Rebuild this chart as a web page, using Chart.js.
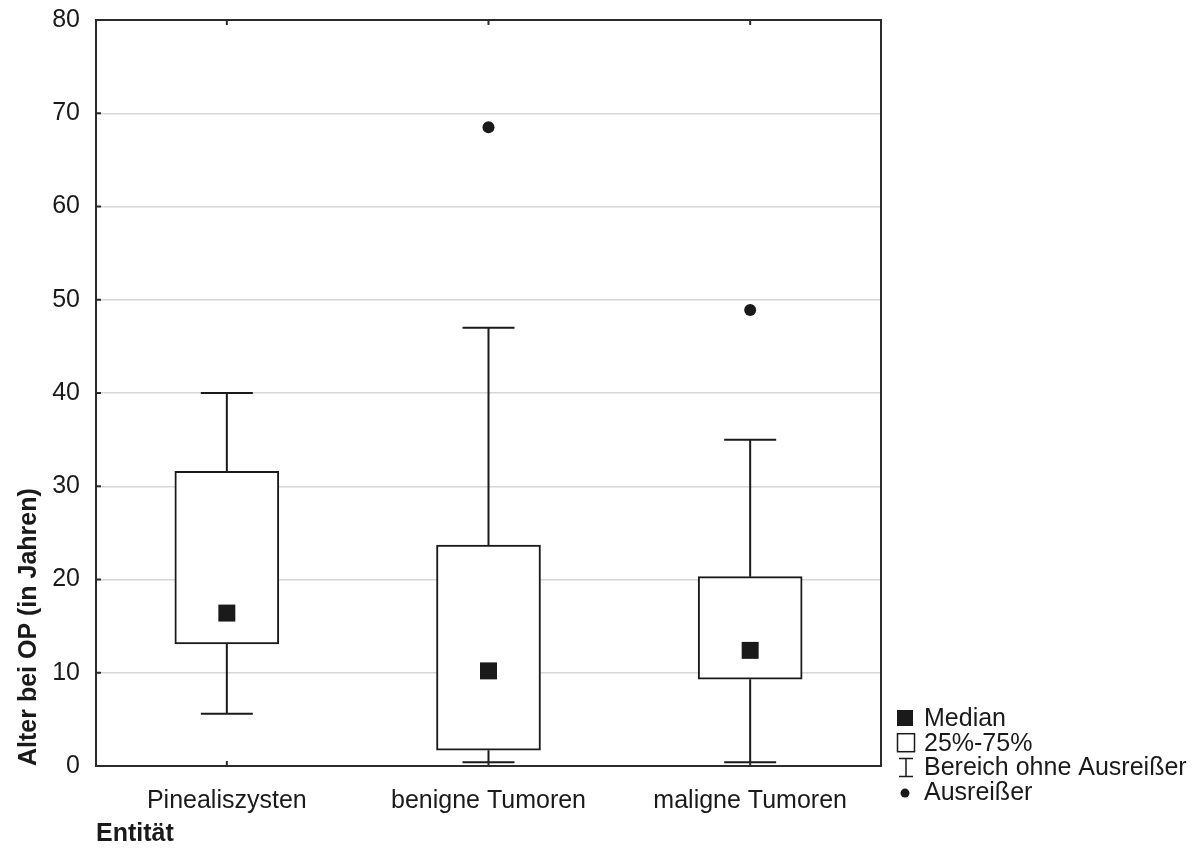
<!DOCTYPE html>
<html>
<head>
<meta charset="utf-8">
<script src="https://cdn.jsdelivr.net/npm/chart.js@4.4.0/dist/chart.umd.min.js"></script>
<style>
  html, body { margin: 0; padding: 0; background: #fff; }
  canvas { display: block; }
</style>
</head>
<body>
<canvas id="chart" width="1198" height="849"></canvas>
<script>
// Werte
const categories = ["Pinealiszysten", "benigne Tumoren", "maligne Tumoren"];
const whiskerLow = [5.6, 0.4, 0.4];
const quartile1 = [13.1, 1.7, 9.3];
const medians = [16.4, 10.2, 12.4];
const quartile3 = [31.6, 23.7, 20.3];
const whiskerHigh = [40, 47, 35];
const outlierCat = ["benigne Tumoren", "maligne Tumoren"];
const outlierVal = [68.5, 48.9];
const yMin = 0, yMax = 80, yStep = 10;
const legendLabels = ["Median", "25%-75%", "Bereich ohne Ausreißer", "Ausreißer"];

const FONT = "'Liberation Sans', Arial, sans-serif";
const INK = "#1a1a1a";

// whiskers + caps, drawn from the scales
const whiskerPlugin = {
    id: "whiskers",
    beforeDatasetsDraw(chart) {
        const { ctx, scales: { x, y } } = chart;
        ctx.save();
        ctx.strokeStyle = INK;
        ctx.lineWidth = 2;
        categories.forEach((c, i) => {
            const cx = x.getPixelForValue(i);
            const cap = 26;
            [[whiskerLow[i], quartile1[i]], [whiskerHigh[i], quartile3[i]]].forEach(([end, box]) => {
                const ye = y.getPixelForValue(end);
                const yb = y.getPixelForValue(box);
                ctx.beginPath();
                ctx.moveTo(cx, yb);
                ctx.lineTo(cx, ye);
                ctx.moveTo(cx - cap, ye);
                ctx.lineTo(cx + cap, ye);
                ctx.stroke();
            });
        });
        ctx.restore();
    },
};

// box frame with small inward ticks (Statistica look)
const framePlugin = {
    id: "frame",
    afterDatasetsDraw(chart) {
        const { ctx, chartArea: a, scales: { x, y } } = chart;
        ctx.save();
        ctx.strokeStyle = "#2b2b2b";
        ctx.lineWidth = 2;
        ctx.strokeRect(a.left, a.top, a.right - a.left, a.bottom - a.top);
        ctx.beginPath();
        y.ticks.forEach((t) => {
            const py = y.getPixelForValue(t.value);
            ctx.moveTo(a.left, py);
            ctx.lineTo(a.left + 5, py);
        });
        categories.forEach((c, i) => {
            const px = x.getPixelForValue(i);
            ctx.moveTo(px, a.bottom);
            ctx.lineTo(px, a.bottom - 5);
            ctx.moveTo(px, a.top);
            ctx.lineTo(px, a.top + 5);
        });
        ctx.stroke();
        ctx.restore();
    },
};

const legendPlugin = {
    id: "sideLegend",
    afterDraw(chart) {
        const { ctx, chartArea: a } = chart;
        const x0 = a.right + 16;
        const step = 24.7;
        const top = a.bottom - 48;
        ctx.save();
        ctx.font = "25px " + FONT;
        ctx.fillStyle = INK;
        ctx.strokeStyle = INK;
        ctx.textBaseline = "middle";
        legendLabels.forEach((lab, i) => {
            const cy = top + i * step;
            ctx.beginPath();
            if (i === 0) {
                ctx.fillRect(x0, cy - 8, 16, 16);
            } else if (i === 1) {
                ctx.lineWidth = 1.5;
                ctx.strokeRect(x0 + 0.5, cy - 9, 17, 18);
            } else if (i === 2) {
                ctx.lineWidth = 1.5;
                ctx.moveTo(x0 + 9, cy - 9);
                ctx.lineTo(x0 + 9, cy + 9);
                ctx.moveTo(x0 + 2, cy - 9);
                ctx.lineTo(x0 + 16, cy - 9);
                ctx.moveTo(x0 + 2, cy + 9);
                ctx.lineTo(x0 + 16, cy + 9);
                ctx.stroke();
            } else {
                ctx.arc(x0 + 8, cy + 1, 4.5, 0, Math.PI * 2);
                ctx.fill();
            }
            ctx.fillText(lab, x0 + 27, cy + 1);
        });
        ctx.restore();
    },
};

const ctx = document.getElementById("chart").getContext("2d");
new Chart(ctx, {
    type: "bar",
    data: {
        labels: categories,
        datasets: [
            {
                label: "25%-75%",
                data: categories.map((c, i) => [quartile1[i], quartile3[i]]),
                backgroundColor: "#ffffff",
                borderColor: INK,
                borderWidth: 2,
                borderSkipped: false,
                barThickness: 104,
                order: 2,
            },
            {
                type: "line",
                label: "Median",
                data: medians,
                showLine: false,
                pointStyle: "rect",
                pointRadius: 12,
                pointBackgroundColor: INK,
                pointBorderWidth: 0,
                order: 1,
            },
            {
                type: "line",
                label: "Ausreißer",
                data: outlierCat.map((c, i) => ({ x: c, y: outlierVal[i] })),
                showLine: false,
                pointStyle: "circle",
                pointRadius: 6,
                pointBackgroundColor: INK,
                pointBorderWidth: 0,
                order: 0,
            },
        ],
    },
    options: {
        responsive: false,
        animation: false,
        layout: { padding: { top: 20, right: 317, left: 0, bottom: 0 } },
        plugins: { legend: { display: false }, tooltip: { enabled: false } },
        scales: {
            x: {
                type: "category",
                offset: true,
                grid: { display: false },
                border: { display: false },
                ticks: { color: INK, font: { family: FONT, size: 25 }, padding: 12 },
                title: {
                    display: true,
                    text: "Entität",
                    align: "start",
                    color: INK,
                    font: { family: FONT, size: 25, weight: "bold" },
                    padding: { top: 0, bottom: 0 },
                },
                afterFit(s) { s.height = 83; s.paddingLeft = 0; s.paddingRight = 0; },
            },
            y: {
                min: yMin,
                max: yMax,
                grid: { color: "#d6d6d6", lineWidth: 1.5, drawTicks: false },
                border: { display: false },
                ticks: { stepSize: yStep, color: INK, font: { family: FONT, size: 25 }, padding: 16 },
                title: {
                    display: true,
                    text: "Alter bei OP (in Jahren)",
                    align: "start",
                    color: INK,
                    font: { family: FONT, size: 25, weight: "bold" },
                    padding: { top: 14, bottom: 0 },
                },
                afterFit(s) { s.width = 96; s.paddingTop = 0; s.paddingBottom = 0; },
            },
        },
    },
    plugins: [whiskerPlugin, framePlugin, legendPlugin],
});
</script>
</body>
</html>
